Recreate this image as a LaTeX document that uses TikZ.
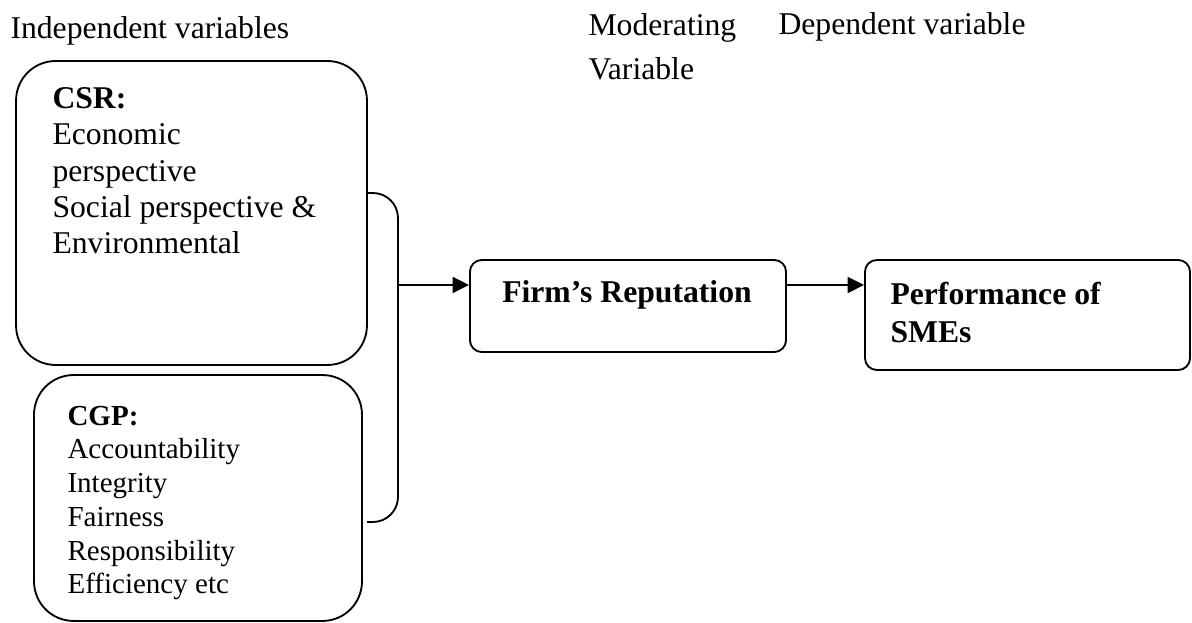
\documentclass[tikz,border=0pt]{standalone}
\usepackage{fontspec}
\setmainfont{Liberation Serif}
\usetikzlibrary{arrows.meta}

\begin{document}
\begin{tikzpicture}[x=0.379pt,y=-0.379pt,
  box/.style={draw,line width=0.7pt,inner sep=0pt},
  txt/.style={inner sep=0pt,anchor=base west,align=left}]

    % `bigbox' is used for the two groups of independent variables.
    % `smallbox' is used for the moderating and the dependent variable.
    % `link' is used for the arrows.
    % Texts with several lines are placed by the baseline of their last line.
    \tikzstyle{bigbox} = [box,rounded corners=15pt]
    \tikzstyle{smallbox} = [box,rounded corners=4.5pt]
    \tikzstyle{link} = [line width=0.75pt,-{Triangle[length=6.2pt,width=6pt]}]
    \useasboundingbox (0,0) rectangle (1192,623);

    % Headings.
    \node[txt,font=\fontsize{12}{13.8}\selectfont] (hind) at (10,39) {Independent variables};
    \node[txt,font=\fontsize{12}{17}\selectfont] (hmod) at (588,80) {Moderating\\Variable};
    \node[txt,font=\fontsize{12}{13.8}\selectfont] (hdep) at (778,35) {Dependent variable};

    % Boxes.
    \node[bigbox,minimum width=133pt,minimum height=115.2pt] (csr) at (191.5,213) {};
    \node[bigbox,minimum width=124.3pt,minimum height=93.2pt] (cgp) at (198,498) {};
    \node[smallbox,minimum width=119.8pt,minimum height=34.9pt] (rep) at (628,306) {};
    \node[smallbox,minimum width=123.2pt,minimum height=41.7pt] (perf) at (1027.5,315) {};

    % Texts in the boxes.
    \node[txt,font=\fontsize{12}{13.8}\selectfont] (csrtext) at (52,254)
      {\textbf{CSR:}\\Economic\\perspective\\Social perspective \&\\Environmental};
    \node[txt,font=\fontsize{11}{12.8}\selectfont] (cgptext) at (67,594)
      {\textbf{CGP:}\\Accountability\\Integrity\\Fairness\\Responsibility\\Efficiency etc};
    \node[inner sep=0pt,anchor=base,font=\fontsize{12}{13.8}\selectfont\bfseries] (reptext) at (627,303)
      {Firm’s Reputation};
    \node[txt,font=\fontsize{12}{14.4}\selectfont\bfseries] (perftext) at (890,343)
      {Performance of\\SMEs};

    % Bracket joining both groups.
    \coordinate (btop) at (367,193);
    \coordinate (bbot) at (367,522);
    \coordinate (fork) at (398,285);
    \draw[line width=0.7pt,rounded corners=9.5pt]
      (btop) -- (fork |- btop) -- (fork |- bbot) -- (bbot);

    % Arrows.
    \draw[link] (fork) -- (rep.west |- fork);
    \draw[link] (rep.east |- fork) -- (perf.west |- fork);
\end{tikzpicture}
\end{document}
